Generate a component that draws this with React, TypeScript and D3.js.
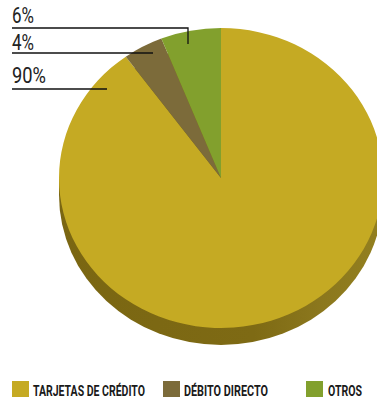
import React, { useLayoutEffect, useRef, useState } from "react";
import * as d3 from "d3";

const categories = ["TARJETAS DE CRÉDITO", "DÉBITO DIRECTO", "OTROS"];
const values = [90, 4, 6];
const labels = ["90%", "4%", "6%"];
const colors = ["#C5AA23", "#7C6B3A", "#82A02D"];

const W = 377, H = 400;
const cx = 221, cy = 178, rx = 162, ry = 150, depth = 17;

// leader annotations (layout)
const leaders = [
  { label: labels[2], ty: 23, ly: 28, x2: 188, y2: 44, tw: 22 },
  { label: labels[1], ty: 50, ly: 53, x2: 153, y2: 53, tw: 22 },
  { label: labels[0], ty: 83, ly: 89, x2: 107, y2: 89, tw: 34 },
];

const legendPos = [
  { x: 12, tx: 33, tw: 112 },
  { x: 163, tx: 184, tw: 84 },
  { x: 306, tx: 328, tw: 34 },
];

function FitText(props: { x: number; y: number; w: number; size: number; weight?: any; children: string }) {
  const ref = useRef<SVGTextElement>(null);
  const [s, setS] = useState(1);
  useLayoutEffect(() => {
    if (ref.current) {
      const n = ref.current.getComputedTextLength();
      if (n > 0) setS(props.w / n);
    }
  }, [props.w, props.children]);
  return (
    <text ref={ref} x={0} y={0} fontSize={props.size} fontWeight={props.weight}
      transform={`translate(${props.x},${props.y}) scale(${s},1)`}>{props.children}</text>
  );
}

export default function App() {
  const pie = d3.pie<number>().sort(null).value((d) => d)
    .startAngle(0).endAngle(2 * Math.PI);
  const arcs = pie(values);
  const arc = d3.arc<d3.PieArcDatum<number>>().innerRadius(0).outerRadius(rx);
  const k = ry / rx;
  return (
    <svg width={W} height={H} style={{ position: "absolute", left: 0, top: 0 }}>
      <defs>
        <linearGradient id="side" x1="0" x2="1" y1="0" y2="0">
          <stop offset="0" stopColor="#7A6612" />
          <stop offset="0.6" stopColor="#7E6A14" />
          <stop offset="0.8" stopColor="#8B771D" />
          <stop offset="1" stopColor="#93801F" />
        </linearGradient>
      </defs>
      <g>
        <ellipse cx={cx} cy={cy + depth} rx={rx} ry={ry} fill="url(#side)" />
        <rect x={cx - rx} y={cy} width={2 * rx} height={depth} fill="url(#side)" />
      </g>
      <g transform={`translate(${cx},${cy}) scale(1,${k})`}>
        {arcs.map((a, i) => (
          <path key={i} d={arc(a) as string} fill={colors[i]} />
        ))}
      </g>
      <g fontFamily="Roboto, sans-serif" fill="#222">
        {leaders.map((l, i) => (
          <g key={i}>
            <FitText x={12} y={l.ty} w={l.tw} size={22} weight={400}>{l.label}</FitText>
            <polyline
              points={`12,${l.ly} ${l.x2},${l.ly} ${l.x2},${l.y2}`}
              fill="none" stroke="#111" strokeWidth={1.3} />
          </g>
        ))}
      </g>
      <g fontFamily="Roboto, sans-serif" fill="#1a1a1a">
        {categories.map((c, i) => (
          <g key={i}>
            <rect x={legendPos[i].x} y={381} width={17} height={16} fill={colors[i]} />
            <FitText x={legendPos[i].tx} y={396} w={legendPos[i].tw} size={15.5} weight={700}>{c}</FitText>
          </g>
        ))}
      </g>
    </svg>
  );
}
